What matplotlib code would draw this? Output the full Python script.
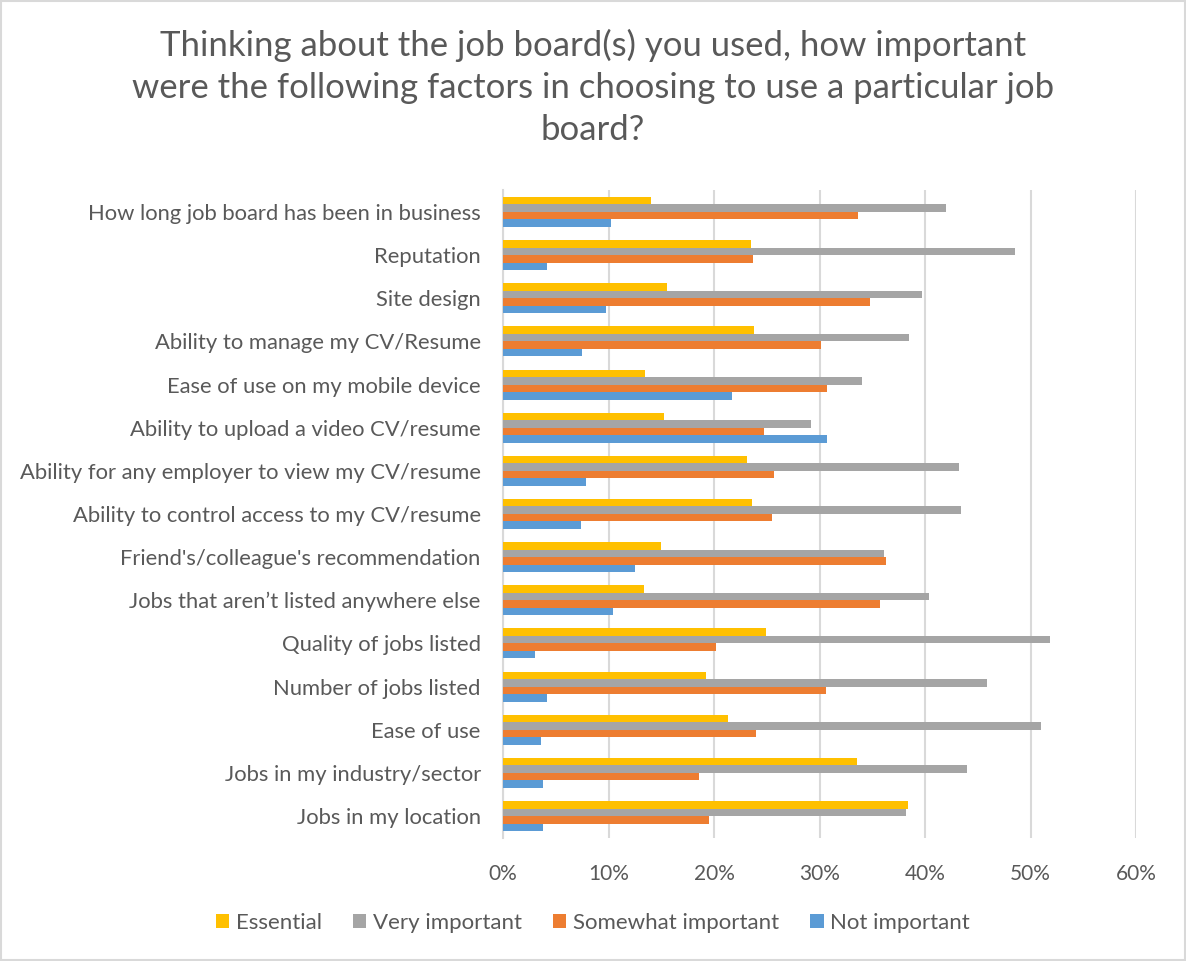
import numpy as np
import matplotlib.pyplot as plt
from matplotlib.patches import Rectangle

plt.rcParams['font.family'] = ['Lato', 'DejaVu Sans']

# categories, top to bottom as shown
categories = [
    "How long job board has been in business",
    "Reputation",
    "Site design",
    "Ability to manage my CV/Resume",
    "Ease of use on my mobile device",
    "Ability to upload a video CV/resume",
    "Ability for any employer to view my CV/resume",
    "Ability to control access to my CV/resume",
    "Friend's/colleague's recommendation",
    "Jobs that aren\u2019t listed anywhere else",
    "Quality of jobs listed",
    "Number of jobs listed",
    "Ease of use",
    "Jobs in my industry/sector",
    "Jobs in my location",
]

essential = [14.0, 23.5, 15.5, 23.8, 13.5, 15.3, 23.1, 23.6, 15.0, 13.4, 24.9, 19.2, 21.3, 33.5, 38.4]
very_important = [42.0, 48.5, 39.7, 38.5, 34.0, 29.2, 43.2, 43.4, 36.1, 40.4, 51.8, 45.9, 51.0, 44.0, 38.2]
somewhat_important = [33.6, 23.7, 34.8, 30.1, 30.7, 24.7, 25.7, 25.5, 36.3, 35.7, 20.2, 30.6, 24.0, 18.6, 19.5]
not_important = [10.2, 4.2, 9.8, 7.5, 21.7, 30.7, 7.9, 7.4, 12.5, 10.4, 3.0, 4.2, 3.6, 3.8, 3.8]

series = [
    ("Essential", essential, "#FFC000"),
    ("Very important", very_important, "#A5A5A5"),
    ("Somewhat important", somewhat_important, "#ED7D31"),
    ("Not important", not_important, "#5B9BD5"),
]

xticks = [0, 10, 20, 30, 40, 50, 60]
title = ("Thinking about the job board(s) you used, how important\n"
         "were the following factors in choosing to use a particular job\n"
         "board?")

text_color = "#595959"

fig = plt.figure(figsize=(11.86, 9.61), dpi=100)
ax = fig.add_axes([0.4241, 0.1284, 0.5339, 0.6735])

y = np.arange(len(categories))
h = 0.174
for i, (name, vals, col) in enumerate(series):
    ax.barh(y + (i - 1.5) * h, vals, height=h, color=col, label=name, zorder=3)

ax.set_ylim(len(categories) - 0.5, -0.5)
ax.set_xlim(0, 60)
ax.set_yticks(y)
ax.set_yticklabels(categories, fontsize=15.8, color=text_color)
ax.set_xticks(xticks)
ax.set_xticklabels([f"{t}%" for t in xticks], fontsize=15, color=text_color)
ax.tick_params(axis='both', length=0)
ax.tick_params(axis='y', pad=16)
ax.tick_params(axis='x', pad=19)
ax.grid(axis='x', color='#D9D9D9', linewidth=1.5, zorder=0)
for s in ['top', 'right', 'bottom']:
    ax.spines[s].set_visible(False)
ax.spines['left'].set_color('#D9D9D9')
ax.spines['left'].set_linewidth(1.5)

fig.text(0.5, 0.97, title, ha='center', va='top', fontsize=25,
         color=text_color, linespacing=1.38)

fig.legend(loc='center', bbox_to_anchor=(0.5, 0.04), ncol=4, frameon=False,
           fontsize=16, handlelength=0.6, handleheight=0.6, handletextpad=0.3,
           columnspacing=1.4, labelcolor=text_color)

fig.patches.append(Rectangle((0.001, 0.001), 0.998, 0.998, transform=fig.transFigure,
                             fill=False, edgecolor='#D9D9D9', linewidth=1.5))

fig.savefig("out.png", dpi=100)
